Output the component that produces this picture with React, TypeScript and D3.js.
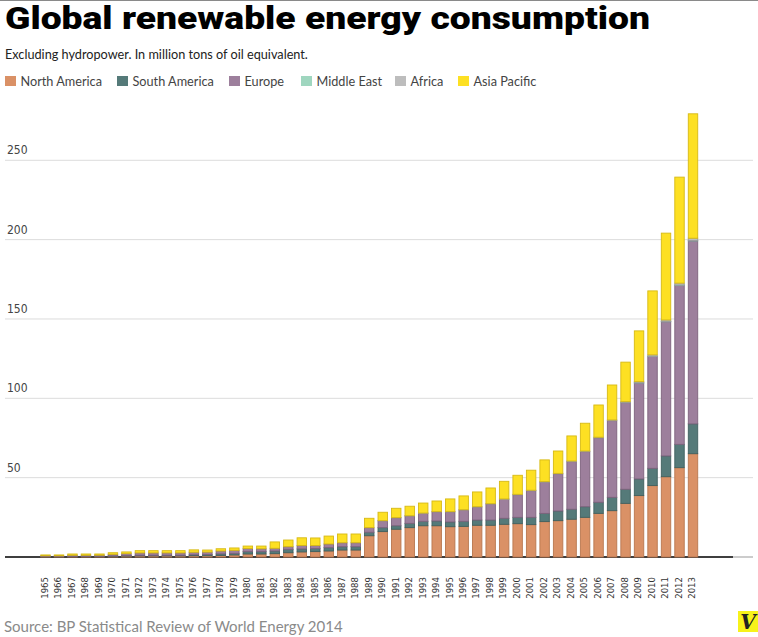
import React from "react";
import * as d3 from "d3";

const years = [1965,1966,1967,1968,1969,1970,1971,1972,1973,1974,1975,1976,1977,1978,1979,1980,1981,1982,1983,1984,1985,1986,1987,1988,1989,1990,1991,1992,1993,1994,1995,1996,1997,1998,1999,2000,2001,2002,2003,2004,2005,2006,2007,2008,2009,2010,2011,2012,2013];

const northAmerica = [0.2,0.2,0.3,0.3,0.35,0.5,0.6,0.7,0.7,0.7,0.7,0.8,
  0.8,1.0,1.3,1.9,1.9,2.1,2.7,3.2,3.4,3.8,4.4,4.4,
  13.4,16.0,17.5,18.5,19.7,19.7,19.1,19.3,20.0,20.0,20.6,21.0,20.4,
  22.3,22.9,23.8,25.0,27.5,29.2,33.8,38.7,45.0,50.6,56.3,65.1];

const southAmerica = [0.05,0.05,0.1,0.1,0.1,0.2,0.3,0.4,0.4,0.4,0.4,0.6,
  0.8,1.0,1.0,1.5,1.5,1.7,2.1,1.9,1.9,2.1,2.1,2.1,
  2.2,2.5,2.2,2.7,2.8,3.0,3.0,3.2,3.3,3.3,3.8,4.0,4.6,
  5.2,6.1,6.3,6.7,7.0,8.4,8.9,10.5,10.9,13.1,14.7,18.8];

const europe = [0.5,0.5,0.7,0.7,0.7,1.0,1.2,1.5,1.5,1.5,1.5,1.6,
  1.5,1.8,1.9,2.0,1.8,1.7,1.7,2.2,1.9,2.3,2.5,2.5,
  2.9,4.3,5.0,4.7,5.1,5.75,6.35,7.15,8.2,10.1,12.0,14.2,16.8,
  19.7,23.35,30.0,34.7,40.55,48.3,54.55,60.5,70.5,84.55,100.25,115.3];

const middleEast = [0,0,0,0,0,0,0,0,0,0,0,0,
  0,0,0,0,0,0,0,0,0,0,0,0,
  0,0,0,0,0,0,0,0,0,0,0,0,0,
  0,0,0,0,0,0,0.05,0.1,0.1,0.15,0.15,0.2];

const africa = [0,0,0,0,0,0,0,0,0,0,0,0,
  0,0,0,0,0,0,0,0,0,0,0,0,
  0,0.1,0.1,0.1,0.1,0.15,0.15,0.15,0.2,0.2,0.2,0.3,0.3,
  0.3,0.35,0.4,0.4,0.45,0.5,0.6,0.7,0.9,1.0,1.2,1.5];

const asiaPacific = [0.55,0.55,0.8,0.8,0.75,1.0,1.1,1.4,1.4,1.4,1.4,1.5,
  1.3,1.4,1.5,1.5,1.7,4.0,4.2,4.8,4.8,5.0,5.5,5.5,
  5.9,5.3,5.9,6.0,6.3,6.7,8.0,8.7,9.3,9.9,11.1,12.0,12.6,
  13.7,14.1,15.8,17.5,20.3,22.0,24.9,32.0,40.3,54.7,66.8,78.4];

const regions = ["North America", "South America", "Europe", "Middle East", "Africa", "Asia Pacific"];
const yTicks = [50, 100, 150, 200, 250];

const fills = ["#da9166", "#557a79", "#9d7f9c", "#9fd6bf", "#bdbdbd", "#fde023"];
const strokes = ["#b8774f", "#40605f", "#7e637d", "#7fb7a0", "#9a9a9a", "#d6b915"];
const legendX = [5, 117, 229, 301, 395, 458];

const W = 758, H = 637;

export default function App() {
  const seriesValues = [northAmerica, southAmerica, europe, middleEast, africa, asiaPacific];
  const rows = years.map((yr, i) => {
    const r: any = { year: yr };
    regions.forEach((k, j) => (r[k] = seriesValues[j][i]));
    return r;
  });
  const stacked = d3.stack().keys(regions)(rows);

  const x = d3.scaleBand<number>()
    .domain(years)
    .range([38.75, 699.75])
    .paddingInner(0.3)
    .paddingOuter(0.15);
  const y = d3.scaleLinear().domain([0, 250]).range([557, 160.3]);

  const tickFont = "'DejaVu Sans Condensed', 'DejaVu Sans', sans-serif";
  const textFont = "Lato, 'Open Sans', sans-serif";

  return (
    <div style={{ position: "absolute", left: 0, top: 0, width: W, height: H, background: "#fff" }}>
      <svg width={W} height={H} style={{ display: "block" }}>
        <rect x={0} y={0} width={W} height={H} fill="#fff" />
        <rect x={0} y={0} width={W} height={1} fill="#8a8a8a" />
        <text x={5} y={29} fontFamily="Roboto, Inter, 'Liberation Sans', sans-serif" fontWeight={900}
          fontSize={31.5} fill="#000" textLength={645} lengthAdjust="spacingAndGlyphs">
          Global renewable energy consumption
        </text>
        <text x={5} y={59} fontFamily={textFont} fontSize={12.7} fill="#222">
          Excluding hydropower. In million tons of oil equivalent.
        </text>
        {regions.map((r, i) => (
          <g key={r}>
            <rect x={legendX[i]} y={76} width={11} height={10} fill={fills[i]} />
            <text x={legendX[i] + 15.5} y={86} fontFamily={textFont} fontSize={12.7} fill="#444">{r}</text>
          </g>
        ))}
        {yTicks.map((t) => (
          <g key={t}>
            <line x1={5} x2={753} y1={y(t)} y2={y(t)} stroke="#dcdcdc" strokeWidth={1} />
            <text x={7} y={y(t) - 6} fontFamily={tickFont} fontSize={12} fill="#444">{t}</text>
          </g>
        ))}
        <line x1={5} x2={753} y1={y(0)} y2={y(0)} stroke="#bbb" strokeWidth={1.5} />
        <line x1={5} x2={733} y1={y(0)} y2={y(0)} stroke="#111" strokeWidth={1.5} />
        {stacked.map((s, j) => (
          <g key={s.key}>
            {s.map((d: any, i: number) => {
              const h = y(d[0]) - y(d[1]);
              if (h <= 0) return null;
              return (
                <rect key={i} x={(x(years[i]) as number)} y={y(d[1])}
                  width={x.bandwidth()} height={h}
                  fill={fills[j]} stroke={strokes[j]} strokeWidth={0.9} />
              );
            })}
          </g>
        ))}
        {years.map((yr) => (
          <text key={yr} transform={`translate(${(x(yr) as number) + x.bandwidth() / 2 - 1},577) rotate(-90)`}
            textAnchor="end" dy="0.35em" fontFamily={tickFont} fontSize={9.5} fill="#333">{yr}</text>
        ))}
        <text x={4} y={632} fontFamily={textFont} fontSize={15} fill="#8a8a8a">
          Source: BP Statistical Review of World Energy 2014
        </text>
        <rect x={738} y={611} width={20} height={21} fill="#f7f21b" />
        <text x={748} y={629} textAnchor="middle" fontFamily="'DejaVu Serif', serif" fontStyle="italic"
          fontWeight={700} fontSize={20} fill="#222">V</text>
      </svg>
    </div>
  );
}
